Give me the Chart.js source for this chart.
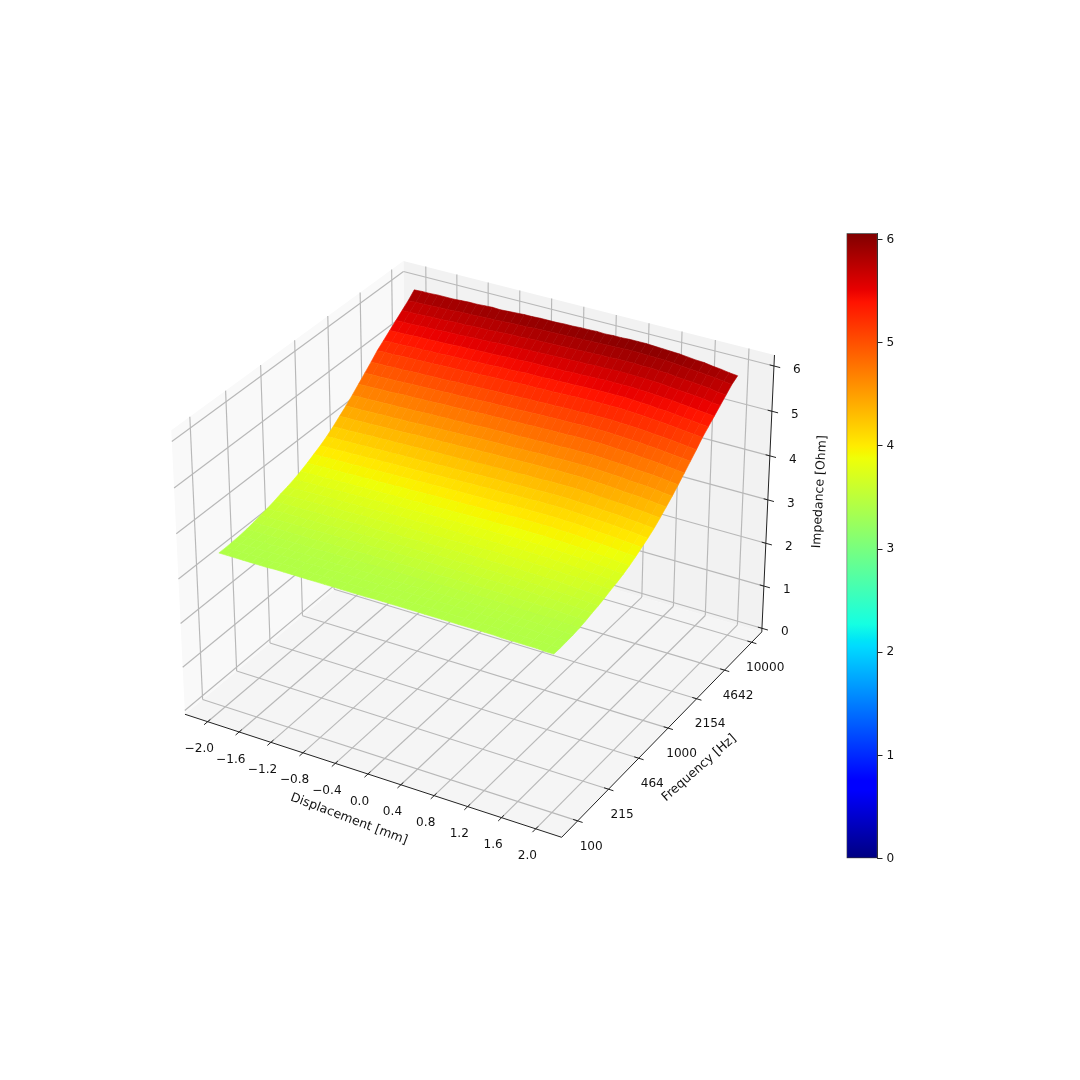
<!DOCTYPE html>
<html><head><meta charset="utf-8">
<style>html,body{margin:0;padding:0;background:#fff}canvas{position:absolute;display:block}</style>
<script src="https://cdn.jsdelivr.net/npm/chart.js@4/dist/chart.umd.min.js"></script>
</head><body>
<canvas id="main" width="1080" height="1080" style="left:0;top:0;width:1080px;height:1080px"></canvas>
<canvas id="bar" width="80" height="648" style="left:840px;top:222px;width:80px;height:648px"></canvas>
<script>
const displacementTicks=[-2,-1.6,-1.2,-0.8,-0.4,0,0.4,0.8,1.2,1.6,2];
const frequencyTicks=[100,215,464,1000,2154,4642,10000];
const impedanceTicks=[0,1,2,3,4,5,6];
const displacement=[-2,-1.9,-1.8,-1.7,-1.6,-1.5,-1.4,-1.3,-1.2,-1.1,-1,-0.9,-0.8,-0.7,-0.6,-0.5,-0.4,-0.3,-0.2,-0.1,0,0.1,0.2,0.3,0.4,0.5,0.6,0.7,0.8,0.9,1,1.1,1.2,1.3,1.4,1.5,1.6,1.7,1.8,1.9,2];
const frequency=[100,116.6,135.9,158.5,184.8,215.4,251.2,292.9,341.5,398.1,464.2,541.2,631,735.6,857.7,1000,1166,1359,1585,1848,2154,2512,2929,3415,3981,4642,5412,6310,7356,8577,10000];
const impedance=[
[3.42,3.42,3.42,3.42,3.42,3.42,3.42,3.43,3.43,3.43,3.43,3.43,3.43,3.43,3.43,3.43,3.43,3.43,3.43,3.44,3.44,3.44,3.44,3.44,3.44,3.44,3.44,3.44,3.44,3.44,3.44,3.44,3.44,3.44,3.43,3.43,3.43,3.43,3.43,3.42,3.42],
[3.42,3.42,3.42,3.42,3.42,3.42,3.42,3.43,3.43,3.43,3.43,3.43,3.43,3.43,3.43,3.43,3.43,3.43,3.43,3.44,3.44,3.44,3.44,3.44,3.44,3.44,3.44,3.44,3.44,3.44,3.44,3.44,3.44,3.44,3.43,3.43,3.43,3.43,3.43,3.42,3.42],
[3.43,3.43,3.43,3.43,3.43,3.44,3.44,3.44,3.44,3.44,3.44,3.44,3.44,3.45,3.45,3.45,3.45,3.45,3.45,3.45,3.45,3.45,3.46,3.46,3.46,3.46,3.46,3.46,3.46,3.46,3.46,3.46,3.46,3.45,3.45,3.45,3.45,3.44,3.44,3.43,3.43],
[3.44,3.44,3.44,3.44,3.44,3.45,3.45,3.45,3.45,3.45,3.45,3.45,3.45,3.46,3.46,3.46,3.46,3.46,3.46,3.46,3.46,3.46,3.47,3.47,3.47,3.47,3.47,3.47,3.47,3.47,3.47,3.47,3.47,3.46,3.46,3.46,3.46,3.45,3.45,3.44,3.44],
[3.46,3.46,3.46,3.46,3.47,3.47,3.47,3.47,3.47,3.47,3.48,3.48,3.48,3.48,3.48,3.48,3.49,3.49,3.49,3.49,3.49,3.49,3.49,3.49,3.50,3.50,3.50,3.50,3.50,3.50,3.50,3.50,3.50,3.49,3.49,3.48,3.48,3.48,3.47,3.47,3.46],
[3.49,3.49,3.49,3.50,3.50,3.50,3.50,3.50,3.51,3.51,3.51,3.51,3.51,3.52,3.52,3.52,3.52,3.52,3.53,3.53,3.53,3.53,3.53,3.53,3.54,3.54,3.54,3.54,3.54,3.54,3.54,3.54,3.53,3.53,3.53,3.52,3.52,3.51,3.50,3.50,3.49],
[3.53,3.53,3.53,3.54,3.54,3.54,3.54,3.55,3.55,3.55,3.55,3.56,3.56,3.56,3.56,3.57,3.57,3.57,3.57,3.58,3.58,3.58,3.58,3.58,3.58,3.59,3.59,3.59,3.59,3.59,3.59,3.59,3.58,3.58,3.57,3.57,3.56,3.55,3.55,3.54,3.53],
[3.56,3.56,3.57,3.57,3.57,3.57,3.58,3.58,3.58,3.59,3.59,3.59,3.59,3.60,3.60,3.60,3.60,3.61,3.61,3.61,3.61,3.62,3.62,3.62,3.62,3.63,3.63,3.63,3.63,3.63,3.63,3.63,3.62,3.62,3.61,3.60,3.60,3.59,3.58,3.57,3.56],
[3.60,3.60,3.61,3.61,3.61,3.62,3.62,3.62,3.63,3.63,3.63,3.64,3.64,3.64,3.64,3.65,3.65,3.65,3.66,3.66,3.66,3.66,3.67,3.67,3.67,3.67,3.68,3.68,3.68,3.68,3.68,3.67,3.67,3.66,3.66,3.65,3.64,3.63,3.62,3.61,3.60],
[3.65,3.65,3.66,3.66,3.66,3.67,3.67,3.68,3.68,3.68,3.69,3.69,3.69,3.70,3.70,3.70,3.71,3.71,3.71,3.72,3.72,3.72,3.73,3.73,3.73,3.73,3.74,3.74,3.74,3.74,3.74,3.73,3.73,3.72,3.71,3.70,3.70,3.69,3.67,3.66,3.65],
[3.69,3.69,3.70,3.70,3.71,3.71,3.71,3.72,3.72,3.73,3.73,3.73,3.74,3.74,3.75,3.75,3.75,3.76,3.76,3.77,3.77,3.77,3.77,3.78,3.78,3.78,3.79,3.79,3.79,3.79,3.79,3.78,3.78,3.77,3.76,3.75,3.74,3.73,3.72,3.70,3.69],
[3.74,3.74,3.75,3.75,3.76,3.76,3.77,3.77,3.78,3.78,3.78,3.79,3.79,3.80,3.80,3.81,3.81,3.81,3.82,3.82,3.83,3.83,3.83,3.84,3.84,3.84,3.85,3.85,3.85,3.85,3.85,3.84,3.84,3.83,3.82,3.81,3.80,3.78,3.77,3.75,3.74],
[3.80,3.80,3.81,3.81,3.82,3.82,3.83,3.83,3.84,3.84,3.84,3.85,3.85,3.86,3.86,3.87,3.87,3.87,3.88,3.88,3.89,3.89,3.89,3.90,3.90,3.90,3.91,3.91,3.91,3.91,3.91,3.90,3.90,3.89,3.88,3.87,3.86,3.84,3.83,3.81,3.80],
[3.87,3.87,3.88,3.88,3.89,3.89,3.90,3.90,3.91,3.91,3.92,3.92,3.93,3.93,3.94,3.94,3.95,3.95,3.96,3.96,3.96,3.97,3.97,3.97,3.98,3.98,3.99,3.99,3.99,3.99,3.99,3.98,3.98,3.97,3.95,3.94,3.93,3.92,3.90,3.89,3.87],
[3.95,3.95,3.96,3.96,3.97,3.97,3.98,3.98,3.99,3.99,4.00,4.00,4.01,4.01,4.02,4.02,4.03,4.03,4.04,4.04,4.04,4.05,4.05,4.05,4.06,4.06,4.07,4.07,4.07,4.07,4.07,4.06,4.06,4.05,4.03,4.02,4.01,4.00,3.98,3.97,3.95],
[4.03,4.04,4.04,4.05,4.05,4.06,4.06,4.07,4.07,4.08,4.08,4.09,4.09,4.10,4.10,4.11,4.11,4.12,4.12,4.13,4.13,4.14,4.14,4.14,4.15,4.15,4.15,4.16,4.16,4.16,4.16,4.15,4.14,4.13,4.12,4.11,4.10,4.08,4.07,4.05,4.03],
[4.12,4.13,4.13,4.14,4.14,4.15,4.15,4.16,4.16,4.17,4.17,4.18,4.18,4.19,4.19,4.20,4.20,4.21,4.21,4.22,4.22,4.23,4.23,4.23,4.24,4.24,4.24,4.25,4.25,4.25,4.25,4.24,4.23,4.22,4.21,4.20,4.19,4.17,4.16,4.14,4.12],
[4.23,4.24,4.24,4.25,4.25,4.26,4.26,4.27,4.27,4.28,4.28,4.29,4.29,4.30,4.30,4.31,4.31,4.32,4.32,4.33,4.33,4.34,4.34,4.34,4.35,4.35,4.35,4.36,4.36,4.36,4.36,4.35,4.34,4.33,4.32,4.31,4.30,4.28,4.27,4.25,4.23],
[4.35,4.36,4.36,4.37,4.37,4.38,4.38,4.39,4.39,4.40,4.41,4.41,4.42,4.42,4.43,4.43,4.44,4.45,4.45,4.46,4.46,4.46,4.47,4.47,4.48,4.48,4.48,4.49,4.49,4.49,4.49,4.48,4.47,4.46,4.45,4.43,4.42,4.41,4.39,4.37,4.35],
[4.47,4.48,4.48,4.49,4.49,4.50,4.50,4.51,4.51,4.52,4.53,4.53,4.54,4.54,4.55,4.55,4.56,4.57,4.57,4.58,4.58,4.58,4.59,4.59,4.60,4.60,4.60,4.61,4.61,4.61,4.61,4.60,4.59,4.58,4.57,4.55,4.54,4.53,4.51,4.49,4.47],
[4.60,4.61,4.61,4.62,4.62,4.63,4.63,4.64,4.64,4.65,4.66,4.66,4.67,4.67,4.68,4.68,4.69,4.70,4.70,4.71,4.71,4.71,4.72,4.72,4.73,4.73,4.73,4.74,4.74,4.74,4.74,4.73,4.72,4.71,4.70,4.68,4.67,4.66,4.64,4.62,4.60],
[4.74,4.75,4.75,4.76,4.76,4.77,4.78,4.78,4.79,4.79,4.80,4.81,4.81,4.82,4.82,4.83,4.84,4.84,4.85,4.85,4.86,4.86,4.87,4.87,4.88,4.88,4.88,4.89,4.89,4.89,4.89,4.88,4.87,4.86,4.85,4.83,4.82,4.80,4.78,4.76,4.74],
[4.88,4.89,4.89,4.90,4.90,4.91,4.92,4.92,4.93,4.93,4.94,4.95,4.95,4.96,4.96,4.97,4.98,4.98,4.99,4.99,5.00,5.00,5.01,5.01,5.02,5.02,5.02,5.03,5.03,5.03,5.03,5.02,5.01,5.00,4.99,4.97,4.96,4.94,4.92,4.90,4.88],
[5.02,5.03,5.03,5.04,5.04,5.05,5.06,5.06,5.07,5.07,5.08,5.09,5.09,5.10,5.10,5.11,5.12,5.12,5.13,5.13,5.14,5.14,5.15,5.15,5.16,5.16,5.16,5.17,5.17,5.17,5.17,5.16,5.15,5.14,5.13,5.11,5.10,5.08,5.06,5.04,5.02],
[5.17,5.18,5.18,5.19,5.20,5.20,5.21,5.21,5.22,5.23,5.23,5.24,5.25,5.25,5.26,5.27,5.27,5.28,5.29,5.29,5.29,5.30,5.30,5.31,5.31,5.32,5.32,5.33,5.33,5.33,5.33,5.32,5.31,5.30,5.28,5.27,5.25,5.23,5.21,5.19,5.17],
[5.29,5.30,5.30,5.31,5.32,5.32,5.33,5.33,5.34,5.35,5.35,5.36,5.37,5.37,5.38,5.39,5.39,5.40,5.41,5.41,5.41,5.42,5.42,5.43,5.43,5.44,5.44,5.45,5.45,5.45,5.45,5.44,5.43,5.42,5.40,5.39,5.37,5.35,5.33,5.31,5.29],
[5.41,5.42,5.42,5.43,5.44,5.44,5.45,5.45,5.46,5.47,5.47,5.48,5.49,5.49,5.50,5.51,5.51,5.52,5.53,5.53,5.53,5.54,5.54,5.55,5.55,5.56,5.56,5.57,5.57,5.57,5.57,5.56,5.55,5.54,5.52,5.51,5.49,5.47,5.45,5.43,5.41],
[5.53,5.54,5.54,5.55,5.56,5.56,5.57,5.58,5.58,5.59,5.60,5.60,5.61,5.62,5.63,5.63,5.64,5.65,5.65,5.66,5.66,5.67,5.67,5.68,5.68,5.69,5.69,5.70,5.70,5.70,5.69,5.69,5.68,5.67,5.65,5.63,5.62,5.60,5.58,5.55,5.53],
[5.65,5.66,5.66,5.67,5.68,5.68,5.69,5.70,5.70,5.71,5.72,5.72,5.73,5.74,5.75,5.75,5.76,5.77,5.77,5.78,5.78,5.79,5.79,5.80,5.80,5.81,5.81,5.82,5.82,5.82,5.81,5.81,5.80,5.79,5.77,5.75,5.74,5.72,5.70,5.67,5.65],
[5.77,5.78,5.78,5.79,5.80,5.80,5.81,5.82,5.82,5.83,5.84,5.84,5.85,5.86,5.87,5.87,5.88,5.89,5.89,5.90,5.90,5.91,5.91,5.92,5.92,5.93,5.93,5.94,5.94,5.94,5.93,5.93,5.92,5.91,5.89,5.87,5.86,5.84,5.82,5.79,5.77],
[5.91,5.92,5.92,5.93,5.93,5.93,5.94,5.95,5.95,5.96,5.97,5.96,5.97,5.98,5.99,5.99,6.00,6.00,6.00,6.01,6.01,6.02,6.02,6.03,6.02,6.03,6.03,6.04,6.04,6.04,6.03,6.02,6.01,6.00,5.98,5.96,5.95,5.92,5.90,5.87,5.85]];
const colorMax=6.06;
const displacementLabel='Displacement [mm]',frequencyLabel='Frequency [Hz]',impedanceLabel='Impedance [Ohm]';

// axis ranges of the 3D box (pane to pane)
const X=[-2.291,2.301],Y=[1.831,4.126],Z=[-0.0864,6.241];
const BOX=[1.19048,1.19048,0.89286];
function project(xv,fv,zv){
  const dx=((xv-X[0])/(X[1]-X[0])-0.5)*BOX[0];
  const dy=((Math.log10(fv)-Y[0])/(Y[1]-Y[0])-0.5)*BOX[1];
  const dz=((zv-Z[0])/(Z[1]-Z[0])-0.5)*BOX[2];
  const u=0.866025*dx+0.5*dy, v=-0.25*dx+0.433013*dy+0.866025*dz, w=0.433013*dx-0.75*dy+0.5*dz;
  const depth=10-w;
  return {x:u/depth,y:v/depth,d:depth};
}
function jet(t){
  t=Math.max(0,Math.min(1,t));
  const seg=(p)=>{for(let i=1;i<p.length;i++){if(t<=p[i][0]){const a=p[i-1],b=p[i];return a[1]+(b[1]-a[1])*(t-a[0])/(b[0]-a[0]);}}return p[p.length-1][1];};
  const r=seg([[0,0],[.35,0],[.66,1],[.89,1],[1,.5]]),g=seg([[0,0],[.125,0],[.375,1],[.64,1],[.91,0],[1,0]]),b=seg([[0,.5],[.11,1],[.34,1],[.65,0],[1,0]]);
  return `rgb(${Math.round(r*255)},${Math.round(g*255)},${Math.round(b*255)})`;
}
const fLo=Math.pow(10,Y[0]),fHi=Math.pow(10,Y[1]);
const datasets=[];
const toPts=points=>points.map(p=>{const q=project(p[0],p[1],p[2]);return{x:q.x,y:q.y};});
function line(points,color,width){datasets.push({data:toPts(points),borderColor:color,borderWidth:width,backgroundColor:color,fill:false,showLine:true,pointRadius:0,tension:0,borderCapStyle:'butt'});}
function poly(points,color,border){datasets.push({data:toPts(points),borderColor:color,borderWidth:border,backgroundColor:color,fill:'shape',showLine:true,pointRadius:0,tension:0});}

// Chart.js paints dataset 0 last, so nearest things come first.
const quads=[];
for(let k=0;k<frequency.length-1;k++)for(let c=0;c<displacement.length-1;c++){
  const pts=[[displacement[c],frequency[k],impedance[k][c]],[displacement[c+1],frequency[k],impedance[k][c+1]],[displacement[c+1],frequency[k+1],impedance[k+1][c+1]],[displacement[c],frequency[k+1],impedance[k+1][c]]];
  const m=(impedance[k][c]+impedance[k][c+1]+impedance[k+1][c+1]+impedance[k+1][c])/4;
  const depth=pts.reduce((s,p)=>s+project(p[0],p[1],p[2]).d,0)/4;
  quads.push({pts,m,depth});
}
quads.sort((a,b)=>a.depth-b.depth);
quads.forEach(q=>poly(q.pts.concat([q.pts[0]]),jet(q.m/colorMax),0.6));

const dark='#222222',gridC='#b8b8b8';
line([[X[0],fLo,Z[0]],[X[1],fLo,Z[0]]],dark,1);
line([[X[1],fLo,Z[0]],[X[1],fHi,Z[0]]],dark,1);
line([[X[1],fHi,Z[0]],[X[1],fHi,Z[1]]],dark,1);
const xw=X[1]-X[0],yw=Y[1]-Y[0];
displacementTicks.forEach(t=>line([[t,Math.pow(10,Y[0]-0.015*yw),Z[0]],[t,Math.pow(10,Y[0]+0.011*yw),Z[0]]],dark,1));
frequencyTicks.forEach(t=>line([[X[1]+0.0125*xw,t,Z[0]],[X[1]-0.0115*xw,t,Z[0]]],dark,1));
impedanceTicks.forEach(t=>line([[X[1]+0.016*xw,fHi,t],[X[1]-0.011*xw,fHi,t]],dark,1));
displacementTicks.forEach(t=>{line([[t,fLo,Z[0]],[t,fHi,Z[0]]],gridC,1.15);line([[t,fHi,Z[0]],[t,fHi,Z[1]]],gridC,1.15);});
frequencyTicks.forEach(t=>{line([[X[1],t,Z[0]],[X[0],t,Z[0]]],gridC,1.15);line([[X[0],t,Z[0]],[X[0],t,Z[1]]],gridC,1.15);});
impedanceTicks.forEach(t=>{line([[X[0],fLo,t],[X[0],fHi,t]],gridC,1.15);line([[X[0],fHi,t],[X[1],fHi,t]],gridC,1.15);});
poly([[X[0],fLo,Z[0]],[X[0],fHi,Z[0]],[X[0],fHi,Z[1]],[X[0],fLo,Z[1]],[X[0],fLo,Z[0]]],'rgb(249,249,249)',0);
poly([[X[0],fHi,Z[0]],[X[1],fHi,Z[0]],[X[1],fHi,Z[1]],[X[0],fHi,Z[1]],[X[0],fHi,Z[0]]],'rgb(242,242,242)',0);
poly([[X[0],fLo,Z[0]],[X[1],fLo,Z[0]],[X[1],fHi,Z[0]],[X[0],fHi,Z[0]],[X[0],fLo,Z[0]]],'rgb(245,245,245)',0);

const FONT='12.1px "DejaVu Sans"',FONT_L='12.5px "DejaVu Sans"';
const labelPlugin={id:'labels3d',afterDraw(chart){
  const c=chart.ctx,sx=chart.scales.x,sy=chart.scales.y;
  const px=(p)=>({x:sx.getPixelForValue(p.x),y:sy.getPixelForValue(p.y)});
  c.save();c.fillStyle='#111';c.font=FONT;c.textAlign='center';c.textBaseline='middle';
  displacementTicks.forEach(t=>{const s=(t<0?'\u2212':'')+Math.abs(t).toFixed(1);const q=px(project(t,fLo,Z[0]));c.fillText(s,q.x-8.4,q.y+27.5);});
  frequencyTicks.forEach(t=>{const q=px(project(X[1],t,Z[0]));c.fillText(String(t),q.x+13.5,q.y+25.5);});
  impedanceTicks.forEach(t=>{const q=px(project(X[1],fHi,t));c.fillText(String(t),q.x+23,q.y+3.5);});
  c.font=FONT_L;
  const rot=(s,p,dx,dy,a)=>{const q=px(p);c.save();c.translate(q.x+dx,q.y+dy);c.rotate(a*Math.PI/180);c.fillText(s,0,0);c.restore();};
  rot(displacementLabel,project(0,fLo,Z[0]),-19,45,20.7);
  rot(frequencyLabel,project(X[1],1000,Z[0]),31,40,-41.5);
  rot(impedanceLabel,project(X[1],fHi,3),52,-8,-87);
  c.restore();
}};
new Chart(document.getElementById('main'),{type:'scatter',data:{datasets},plugins:[labelPlugin],options:{
  responsive:false,animation:false,devicePixelRatio:1,events:[],layout:{padding:0},
  plugins:{legend:{display:false},tooltip:{enabled:false},title:{display:false}},
  scales:{x:{type:'linear',display:false,min:-478.7/3625,max:(1080-478.7)/3625},y:{type:'linear',display:false,min:(535.25-1080)/3625,max:535.25/3625}}
}});
const jetStops=[0,.11,.125,.34,.35,.375,.64,.65,.66,.89,.91,1];
new Chart(document.getElementById('bar'),{type:'bar',data:{labels:[''],datasets:[{data:[[0,colorMax]],barPercentage:1,categoryPercentage:1,borderWidth:1,borderColor:'#333',borderSkipped:false,
  backgroundColor(ctx){const a=ctx.chart.chartArea;if(!a)return '#000';const y=ctx.chart.scales.y;const g=ctx.chart.ctx.createLinearGradient(0,y.getPixelForValue(0),0,y.getPixelForValue(colorMax));jetStops.forEach(s=>g.addColorStop(s,jet(s)));return g;}}]},
  options:{responsive:false,animation:false,devicePixelRatio:1,events:[],layout:{padding:{left:6.5,top:10,bottom:10,right:0}},
  plugins:{legend:{display:false},tooltip:{enabled:false}},
  scales:{x:{display:false,offset:true},y:{position:'right',min:0,max:colorMax,afterFit(s){s.width=42.5;},
    border:{display:true,color:'#333',width:1},grid:{drawOnChartArea:false,drawTicks:true,tickLength:5,color:'#222',tickWidth:1},
    ticks:{stepSize:1,includeBounds:false,autoSkip:false,padding:4,color:'#111',maxRotation:0,font:{family:'DejaVu Sans',size:12.1},callback:v=>String(v)}}}}
});
</script></body></html>
